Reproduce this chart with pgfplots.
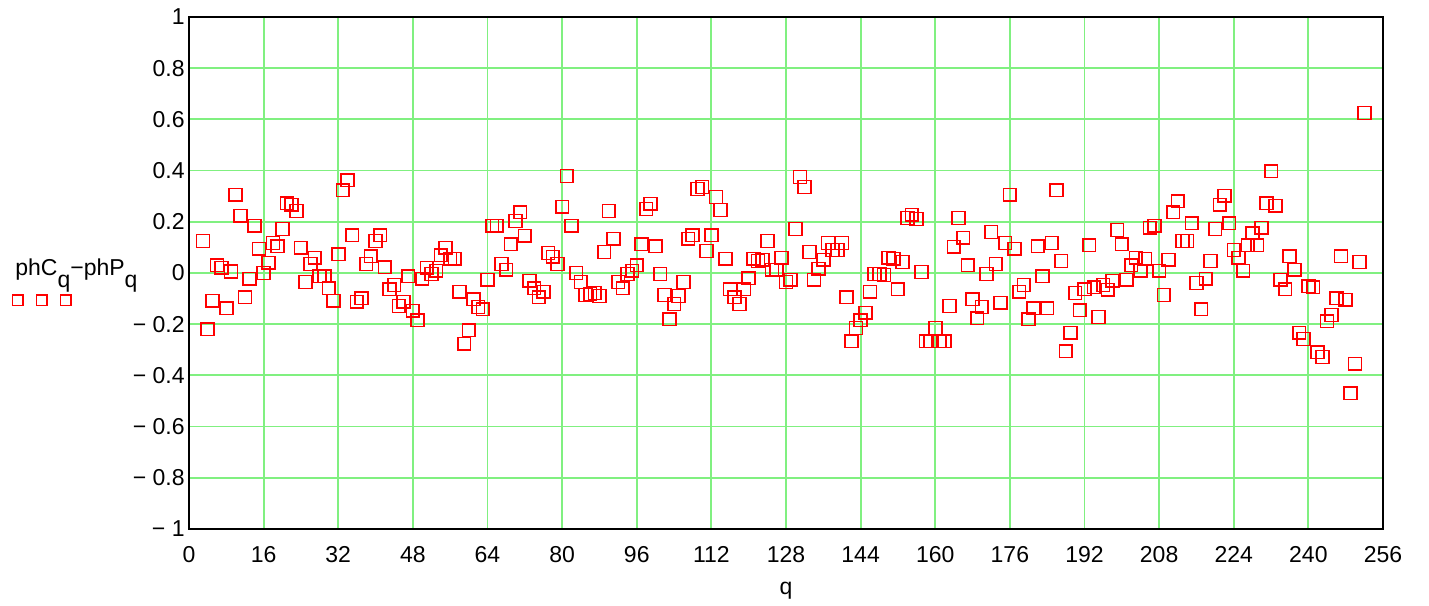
\documentclass[border=0pt]{standalone}
\usepackage{fontspec}
\setmainfont{Liberation Sans}
\usepackage{pgfplots}
\pgfplotsset{compat=1.18}
\definecolor{gridgreen}{RGB}{128,240,128}
\begin{document}
\begin{tikzpicture}[font=\fontsize{11.5}{13}\selectfont]
\begin{axis}[name=ax, scale only axis, width=597pt, height=256pt,
  xmin=0, xmax=256, ymin=-1, ymax=1,
  xtick={0,16,32,48,64,80,96,112,128,144,160,176,192,208,224,240,256},
  xticklabels={0,16,32,48,64,80,96,112,128,144,160,176,192,208,224,240,256},
  ytick={-1,-0.8,-0.6,-0.4,-0.2,0,0.2,0.4,0.6,0.8,1},
  yticklabels={− 1,− 0.8,− 0.6,− 0.4,− 0.2,0,0.2,0.4,0.6,0.8,1},
  grid=major, major grid style={gridgreen, line width=0.9pt},
  major tick length=0pt, tick style={draw=none},
  axis line style={line width=1pt},
  xticklabel style={anchor=base, yshift=-16.5pt},
  yticklabel style={inner xsep=2pt},
  xlabel={q}, xlabel style={at={(axis description cs:0.5,0)}, anchor=base, yshift=-32.5pt},
  legend style={at={(axis description cs:-0.1225,0.447)}, anchor=center, draw=none, fill=none, inner sep=0pt, nodes={inner sep=0pt}},
  legend image code/.code={
    \draw[red, line width=0.8pt] (-14.65pt,-2.65pt) rectangle (-9.35pt,2.65pt);
    \draw[red, line width=0.8pt] (-2.65pt,-2.65pt) rectangle (2.65pt,2.65pt);
    \draw[red, line width=0.8pt] (9.35pt,-2.65pt) rectangle (14.65pt,2.65pt);
  },
]
\addplot[only marks, mark=square, mark size=3.2pt, red, mark options={line width=0.85pt}] table {
q v
3 0.125
4 -0.219
5 -0.109
6 0.031
7 0.020
8 -0.137
9 0.005
10 0.305
11 0.223
12 -0.094
13 -0.023
14 0.184
15 0.094
16 0.000
17 0.040
18 0.117
19 0.105
20 0.172
21 0.273
22 0.266
23 0.242
24 0.098
25 -0.035
26 0.035
27 0.059
28 -0.012
29 -0.012
30 -0.059
31 -0.109
32 0.074
33 0.324
34 0.363
35 0.148
36 -0.113
37 -0.098
38 0.035
39 0.066
40 0.125
41 0.148
42 0.023
43 -0.063
44 -0.047
45 -0.129
46 -0.113
47 -0.012
48 -0.148
49 -0.184
50 -0.023
51 0.020
52 -0.004
53 0.008
54 0.070
55 0.098
56 0.055
57 0.055
58 -0.074
59 -0.277
60 -0.223
61 -0.102
62 -0.133
63 -0.141
64 -0.027
65 0.184
66 0.184
67 0.035
68 0.012
69 0.113
70 0.203
71 0.238
72 0.145
73 -0.031
74 -0.059
75 -0.094
76 -0.074
77 0.078
78 0.063
79 0.035
80 0.258
81 0.379
82 0.184
83 0.000
84 -0.035
85 -0.086
86 -0.082
87 -0.078
88 -0.090
89 0.082
90 0.242
91 0.133
92 -0.035
93 -0.059
94 -0.004
95 0.008
96 0.031
97 0.113
98 0.250
99 0.270
100 0.105
101 -0.004
102 -0.086
103 -0.180
104 -0.121
105 -0.090
106 -0.035
107 0.133
108 0.148
109 0.328
110 0.336
111 0.086
112 0.148
113 0.297
114 0.246
115 0.055
116 -0.063
117 -0.094
118 -0.121
119 -0.063
120 -0.020
121 0.055
122 0.047
123 0.051
124 0.125
125 0.012
126 0.012
127 0.059
128 -0.035
129 -0.027
130 0.172
131 0.375
132 0.336
133 0.082
134 -0.027
135 0.016
136 0.051
137 0.117
138 0.090
139 0.090
140 0.117
141 -0.094
142 -0.266
143 -0.215
144 -0.184
145 -0.156
146 -0.074
147 -0.004
148 -0.004
149 -0.008
150 0.059
151 0.055
152 -0.063
153 0.043
154 0.215
155 0.227
156 0.211
157 0.004
158 -0.266
159 -0.266
160 -0.215
161 -0.266
162 -0.266
163 -0.129
164 0.102
165 0.215
166 0.137
167 0.031
168 -0.102
169 -0.176
170 -0.133
171 -0.004
172 0.160
173 0.035
174 -0.117
175 0.117
176 0.305
177 0.094
178 -0.074
179 -0.047
180 -0.180
181 -0.137
182 0.105
183 -0.012
184 -0.137
185 0.117
186 0.324
187 0.047
188 -0.305
189 -0.234
190 -0.078
191 -0.145
192 -0.063
193 0.109
194 -0.055
195 -0.172
196 -0.047
197 -0.066
198 -0.031
199 0.168
200 0.113
201 -0.027
202 0.031
203 0.059
204 0.008
205 0.055
206 0.176
207 0.184
208 0.008
209 -0.086
210 0.051
211 0.238
212 0.281
213 0.125
214 0.125
215 0.195
216 -0.039
217 -0.141
218 -0.023
219 0.047
220 0.172
221 0.266
222 0.301
223 0.195
224 0.090
225 0.059
226 0.008
227 0.109
228 0.156
229 0.109
230 0.176
231 0.273
232 0.398
233 0.262
234 -0.027
235 -0.063
236 0.066
237 0.012
238 -0.234
239 -0.258
240 -0.051
241 -0.055
242 -0.309
243 -0.328
244 -0.188
245 -0.164
246 -0.098
247 0.066
248 -0.105
249 -0.469
250 -0.355
251 0.043
252 0.625
};
\addlegendentry{}
\end{axis}
\node[anchor=base west, inner sep=0pt] at ([xshift=-87pt, yshift=126.5pt]ax.south west) {phC\raisebox{-6pt}{q}−phP\raisebox{-6pt}{q}};
\pgfresetboundingbox
\path ([shift={(-94.5pt,-38pt)}]ax.south west) rectangle ([shift={(23pt,8.5pt)}]ax.north east);
\end{tikzpicture}
\end{document}
